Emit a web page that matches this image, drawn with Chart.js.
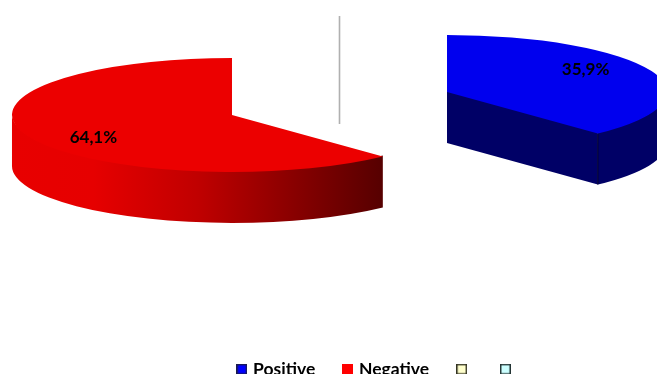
<!DOCTYPE html>
<html>
<head>
  <title>Positive / Negative 3D pie</title>
  <script src="https://cdn.jsdelivr.net/npm/chart.js"></script>
  <style>
    html, body { margin: 0; background: #fff; overflow: hidden; height: 374px; }
    canvas { display: block; }
  </style>
</head>
<body>
  <canvas id="chart" width="657" height="388"></canvas>

  <script>
    const categories = ['Positive', 'Negative', '', ''];
    const shares = [35.9, 64.1, 0, 0];
    const valueLabels = ['35,9%', '64,1%', '', ''];
    const sliceColors = ['#0000ee', '#ec0000', '#ffffcc', '#ccffff'];
    const legendColors = ['#0000ff', '#ff0000', '#ffffcc', '#ccffff'];
    const legendBorders = ['#1c1c4a', '#ff0000', '#333322', '#223333'];

    // Look of the extruded pie
    const tilt = 0.259;
    const depth = 51;
    const foreshorten = 1.3;
    const explode = { x: 119, y: 103 };
    const pieCentre = { x: 339.5, y: 103.5 };

    // Little square swatch, used as the legend point style so it can sit close to its text
    function swatch(fill, stroke) {
      const c = document.createElement('canvas');
      c.width = 11;
      c.height = 11;
      const g = c.getContext('2d');
      g.fillStyle = stroke;
      g.fillRect(0, 0, 11, 11);
      g.fillStyle = fill;
      g.fillRect(1.5, 1.5, 8, 8);
      return c;
    }

    // Angle on the pie as it looks once the view is tilted
    function viewAngle(a) {
      const turned = Math.atan2(Math.sin(a) * foreshorten, Math.cos(a));
      return a + Math.atan2(Math.sin(turned - a), Math.cos(turned - a));
    }

    function areaCentre(chart) {
      const area = chart.chartArea;
      return { x: (area.left + area.right) / 2, y: (area.top + area.bottom) / 2 };
    }

    // Where an arc's centre lands on the tilted plane
    function sliceCentre(chart, arc) {
      const o = areaCentre(chart);
      return {
        x: pieCentre.x + arc.x - o.x,
        y: pieCentre.y + (arc.y - o.y) * tilt
      };
    }

    function wallFill(ctx, index) {
      if (index === 0) return '#000066';
      const grad = ctx.createLinearGradient(12, 0, 383, 0);
      grad.addColorStop(0, '#e80000');
      grad.addColorStop(0.22, '#e60000');
      grad.addColorStop(0.5, '#c00000');
      grad.addColorStop(0.8, '#800000');
      grad.addColorStop(1, '#560000');
      return grad;
    }

    const pie3d = {
      id: 'pie3d',
      // Pull the slices apart and bend their angles for the tilted view.
      // The dataset's offset option can't do this, it also shrinks and widens the arc.
      afterDatasetsUpdate(chart) {
        chart.getDatasetMeta(0).data.forEach(arc => {
          const mid = (arc.startAngle + arc.endAngle) / 2;
          arc.x += Math.cos(mid) * explode.x;
          arc.y += Math.sin(mid) * explode.y;
          arc.labelAngle = viewAngle(mid);
          arc.startAngle = viewAngle(arc.startAngle);
          arc.endAngle = viewAngle(arc.endAngle);
        });
      },
      beforeDatasetsDraw(chart) {
        const ctx = chart.ctx;
        const arcs = chart.getDatasetMeta(0).data;

        // Axis line running up through the pie centre
        ctx.save();
        ctx.strokeStyle = '#b0b0b0';
        ctx.lineWidth = 1.6;
        ctx.beginPath();
        ctx.moveTo(pieCentre.x, 16);
        ctx.lineTo(pieCentre.x, 124);
        ctx.stroke();

        // Outer rim and the cut face that looks towards the viewer.
        // Both start a pixel high so no white seam shows under the top face.
        arcs.forEach((arc, i) => {
          if (arc.circumference === 0) return;
          const c = sliceCentre(chart, arc);
          const rx = arc.outerRadius;
          const ry = rx * tilt;
          ctx.fillStyle = wallFill(ctx, i);

          const from = Math.max(arc.startAngle, 0);
          const to = Math.min(arc.endAngle, Math.PI);
          if (to > from) {
            ctx.beginPath();
            ctx.ellipse(c.x, c.y - 1, rx, ry, 0, from, to);
            ctx.ellipse(c.x, c.y + depth, rx, ry, 0, to, from, true);
            ctx.closePath();
            ctx.fill();
          }

          if (Math.cos(arc.endAngle) > 0.01) {
            const ex = c.x + Math.cos(arc.endAngle) * rx;
            const ey = c.y + Math.sin(arc.endAngle) * ry;
            ctx.beginPath();
            ctx.moveTo(c.x, c.y - 1);
            ctx.lineTo(ex, ey - 1);
            ctx.lineTo(ex, ey + depth);
            ctx.lineTo(c.x, c.y + depth);
            ctx.closePath();
            ctx.fill();
            ctx.strokeStyle = '#00002a';
            ctx.lineWidth = 1;
            ctx.beginPath();
            ctx.moveTo(ex, ey);
            ctx.lineTo(ex, ey + depth);
            ctx.stroke();
          }
        });
        ctx.restore();

        // Lay the flat pie down onto the tilted plane for the library's own arcs
        const o = areaCentre(chart);
        ctx.save();
        ctx.translate(pieCentre.x, pieCentre.y);
        ctx.scale(1, tilt);
        ctx.translate(-o.x, -o.y);
      },
      afterDatasetsDraw(chart) {
        const ctx = chart.ctx;
        ctx.restore();

        ctx.save();
        ctx.font = 'bold 17px Lato, "Open Sans", sans-serif';
        ctx.fillStyle = '#000';
        ctx.textAlign = 'center';
        ctx.textBaseline = 'middle';
        chart.getDatasetMeta(0).data.forEach((arc, i) => {
          if (!valueLabels[i]) return;
          const c = sliceCentre(chart, arc);
          const r = arc.outerRadius * 0.74;
          ctx.fillText(valueLabels[i], c.x + Math.cos(arc.labelAngle) * r, c.y + Math.sin(arc.labelAngle) * r * tilt);
        });
        ctx.restore();
      }
    };

    const ctx = document.getElementById('chart').getContext('2d');
    // Lato would otherwise join the "ti" in the legend text
    ctx.letterSpacing = '0.01px';
    new Chart(ctx, {
      type: 'pie',
      data: {
        labels: categories,
        datasets: [{
          data: shares,
          backgroundColor: sliceColors,
          borderWidth: 0,
          radius: 220,
          clip: false
        }]
      },
      options: {
        responsive: false,
        animation: false,
        layout: { padding: { left: 99 } },
        plugins: {
          tooltip: { enabled: false },
          legend: {
            position: 'bottom',
            labels: {
              usePointStyle: true,
              pointStyleWidth: 5,
              padding: 30,
              color: '#000',
              font: { family: 'Lato, "Open Sans", sans-serif', size: 17.5, weight: 'bold' },
              generateLabels: () => categories.map((text, i) => ({
                text,
                pointStyle: swatch(legendColors[i], legendBorders[i]),
                fillStyle: legendColors[i],
                lineWidth: 0,
                index: i
              }))
            }
          }
        }
      },
      plugins: [pie3d]
    });
  </script>
</body>
</html>
